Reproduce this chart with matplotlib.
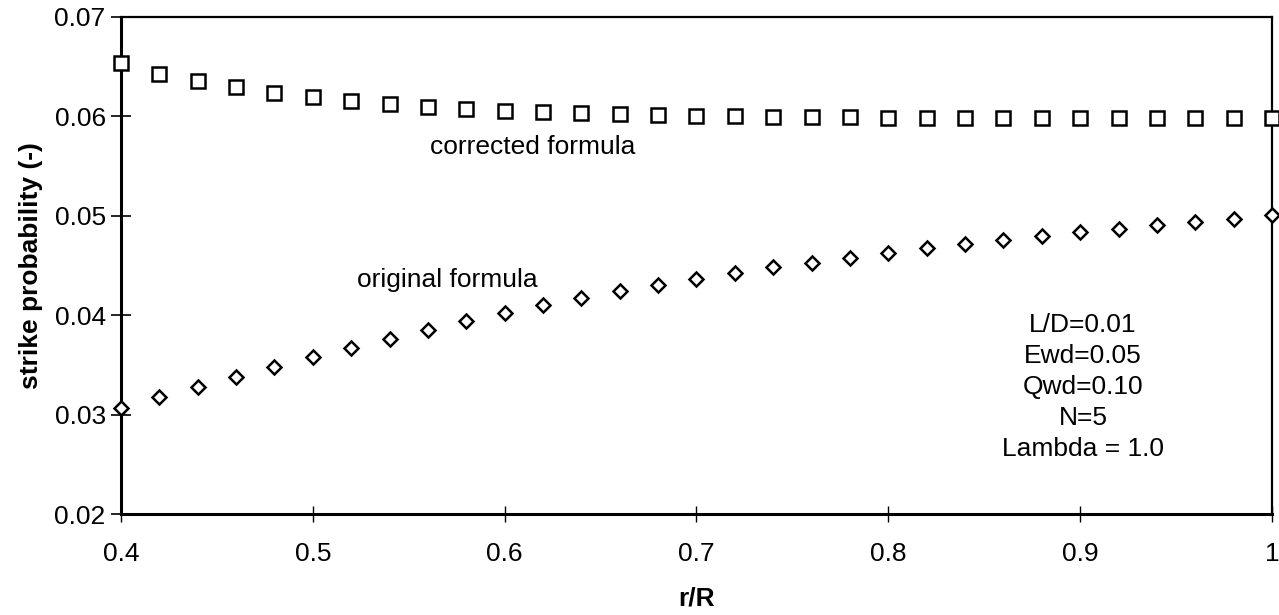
import numpy as np
import matplotlib
matplotlib.use("Agg")
from matplotlib import pyplot as plt

plt.rcParams['font.family'] = ['Liberation Sans', 'DejaVu Sans']

# r/R positions, every 0.02 from 0.4 to 1.0
r_over_R = [0.40, 0.42, 0.44, 0.46, 0.48, 0.50, 0.52, 0.54, 0.56, 0.58,
            0.60, 0.62, 0.64, 0.66, 0.68, 0.70, 0.72, 0.74, 0.76, 0.78,
            0.80, 0.82, 0.84, 0.86, 0.88, 0.90, 0.92, 0.94, 0.96, 0.98, 1.00]

corrected = [0.0654, 0.0643, 0.0636, 0.0630, 0.0624, 0.0620, 0.0615, 0.0612,
             0.0609, 0.0607, 0.0605, 0.0604, 0.0603, 0.0602, 0.0601, 0.0600,
             0.0600, 0.0599, 0.0599, 0.0599, 0.0598, 0.0598, 0.0598, 0.0598,
             0.0598, 0.0598, 0.0598, 0.0598, 0.0598, 0.0598, 0.0598]

original = [0.0307, 0.0318, 0.0328, 0.0338, 0.0348, 0.0358, 0.0367, 0.0376,
            0.0385, 0.0394, 0.0402, 0.0410, 0.0417, 0.0424, 0.0430, 0.0436,
            0.0442, 0.0448, 0.0453, 0.0458, 0.0463, 0.0468, 0.0472, 0.0476,
            0.0480, 0.0484, 0.0487, 0.0491, 0.0494, 0.0497, 0.0501]

params = "L/D=0.01\nEwd=0.05\nQwd=0.10\nN=5\nLambda = 1.0"

fs = 19

fig = plt.figure(figsize=(12.79, 6.15), dpi=100)
ax = fig.add_axes([0.0946, 0.1642, 0.8999, 0.8082])

ax.plot(r_over_R, corrected, ls='none', marker='s', ms=10, mfc='white',
        mec='black', mew=1.8, clip_on=False, zorder=3)
ax.plot(r_over_R, original, ls='none', marker='D', ms=7.5, mfc='white',
        mec='black', mew=1.8, clip_on=False, zorder=3)

ax.set_xlim(0.4, 1.0)
ax.set_ylim(0.02, 0.07)
ax.set_xticks([0.4, 0.5, 0.6, 0.7, 0.8, 0.9, 1.0])
ax.set_xticklabels(['0.4', '0.5', '0.6', '0.7', '0.8', '0.9', '1'])
ax.set_yticks([0.02, 0.03, 0.04, 0.05, 0.06, 0.07])
ax.set_yticklabels(['0.02', '0.03', '0.04', '0.05', '0.06', '0.07'])
ax.tick_params(axis='both', labelsize=fs, direction='inout', color='black')
ax.tick_params(axis='y', length=14, width=1.2, pad=4)
ax.tick_params(axis='x', length=12, width=1.0, pad=14)

for side in ['left', 'bottom']:
    ax.spines[side].set_linewidth(2.2)
for side in ['top', 'right']:
    ax.spines[side].set_linewidth(1.6)

ax.set_xlabel('r/R', fontsize=fs, fontweight='bold', labelpad=15)
ax.set_ylabel('strike probability (-)', fontsize=fs, fontweight='bold',
              labelpad=8)

ax.text(0.6148, 0.0569, 'corrected formula', fontsize=fs, ha='center',
        va='center')
ax.text(0.570, 0.0435, 'original formula', fontsize=fs, ha='center',
        va='center')
ax.text(0.9015, 0.0328, params, fontsize=fs, ha='center', va='center',
        linespacing=1.37)

fig.savefig('out.png', dpi=100)
